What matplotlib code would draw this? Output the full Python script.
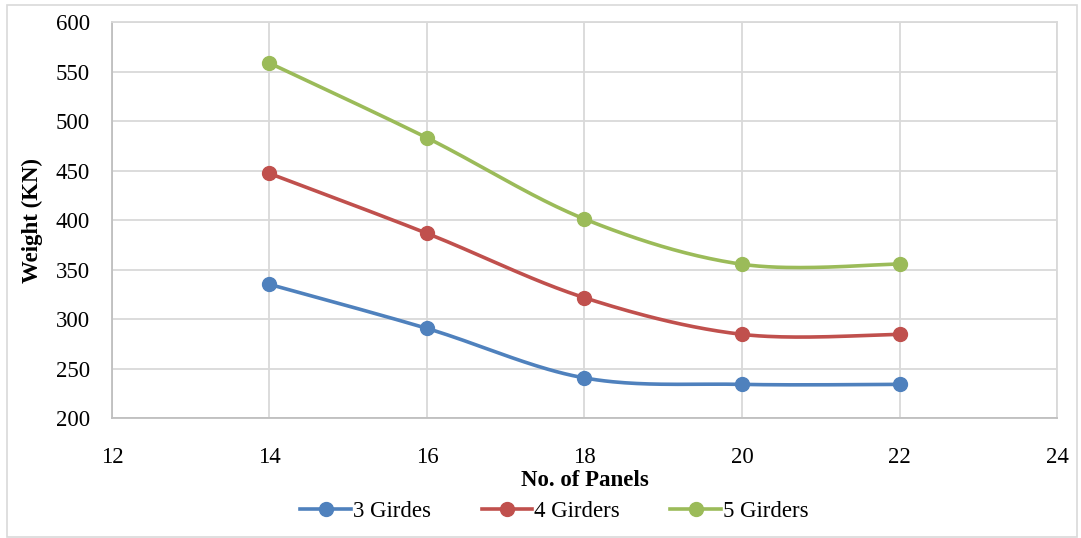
import numpy as np
import matplotlib
matplotlib.use("Agg")
import matplotlib.pyplot as plt
from matplotlib.patches import Rectangle

# Data
panels = [14, 16, 18, 20, 22]
girders3 = [335, 290.5, 240.5, 234, 234]
girders4 = [447, 386.5, 321.5, 284.5, 284.5]
girders5 = [558.5, 483, 401, 355.3, 355.5]
series_names = ["3 Girdes", "4 Girders", "5 Girders"]
colors = ["#4F81BD", "#C0504D", "#9BBB59"]
x_ticks = [12, 14, 16, 18, 20, 22, 24]
y_ticks = [200, 250, 300, 350, 400, 450, 500, 550, 600]

plt.rcParams['font.family'] = ['Liberation Serif', 'DejaVu Serif']
FS = 16.5


def smooth(xs, ys, n=40):
    """Spreadsheet-style smoothed line: cubic Bezier segments with
    Catmull-Rom control points."""
    xs = np.asarray(xs, float)
    ys = np.asarray(ys, float)
    pts = np.column_stack([xs, ys])
    out = []
    for i in range(len(pts) - 1):
        p0 = pts[i - 1] if i > 0 else pts[i]
        p1 = pts[i]
        p2 = pts[i + 1]
        p3 = pts[i + 2] if i + 2 < len(pts) else pts[i + 1]
        c1 = p1 + (p2 - p0) / 6.0
        c2 = p2 - (p3 - p1) / 6.0
        t = np.linspace(0, 1, n)[:, None]
        seg = ((1 - t) ** 3) * p1 + 3 * ((1 - t) ** 2) * t * c1 \
            + 3 * (1 - t) * t ** 2 * c2 + t ** 3 * p2
        out.append(seg if i == 0 else seg[1:])
    curve = np.vstack(out)
    return curve[:, 0], curve[:, 1]


fig = plt.figure(figsize=(10.81, 5.38), dpi=100)
ax = fig.add_axes([0.1036, 0.2230, 0.8742, 0.7361])

for vals, name, c in zip([girders3, girders4, girders5], series_names, colors):
    sx, sy = smooth(panels, vals)
    ax.plot(sx, sy, color=c, lw=2.6, solid_capstyle='round', zorder=3)
    ax.plot(panels, vals, linestyle='none', marker='o', ms=10, color=c, zorder=4)
    # legend handle combining line and marker
    ax.plot([], [], color=c, lw=2.6, marker='o', ms=10, label=name)

ax.set_xlim(12, 24)
ax.set_ylim(200, 600)
ax.set_xticks(x_ticks)
ax.set_yticks(y_ticks)
ax.grid(True, color='#d9d9d9', lw=1.3, zorder=0)
ax.set_axisbelow(True)
for s in ax.spines.values():
    s.set_color('#d9d9d9')
    s.set_linewidth(1.3)
ax.spines['bottom'].set_color('#bfbfbf')
ax.spines['left'].set_color('#bfbfbf')
ax.tick_params(axis='both', length=0, labelsize=FS, colors='black')
ax.tick_params(axis='x', pad=21)
ax.tick_params(axis='y', pad=16)

ax.set_xlabel("No. of Panels", fontsize=FS, fontweight='bold', labelpad=1)
ax.set_ylabel("Weight (KN)", fontsize=FS, fontweight='bold', labelpad=9)

fig.legend(loc='center', bbox_to_anchor=(0.513, 0.050), ncol=3, frameon=False,
           fontsize=FS, handlelength=2.2, columnspacing=2.2, handletextpad=0.1)

fig.patches.append(Rectangle((7 / 1081, 1 / 538), 1070 / 1081, 532 / 538,
                             transform=fig.transFigure, fill=False,
                             edgecolor='#d9d9d9', lw=1.2))

fig.savefig("out.png", dpi=100)
